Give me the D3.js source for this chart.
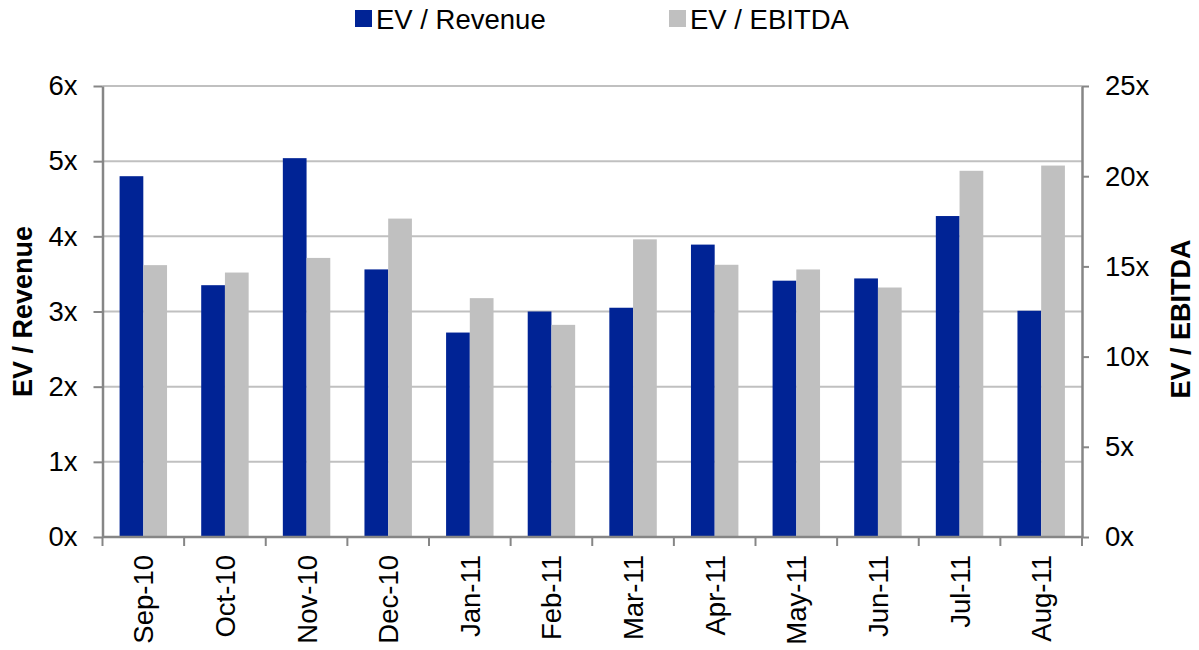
<!DOCTYPE html>
<html lang="en">
<head>
  <meta charset="UTF-8">
  <script src="https://cdn.jsdelivr.net/npm/d3@7"></script>
  <title>EV multiples</title>
  <style>
    body { margin: 0; background: #fff; }
    svg text { font-family: "Liberation Sans", Arial, sans-serif; fill: #000; }
  </style>
</head>
<body>
  <svg width="1199" height="650" id="chart"></svg>
  <script>
  // data
  const months = ["Sep-10","Oct-10","Nov-10","Dec-10","Jan-11","Feb-11","Mar-11","Apr-11","May-11","Jun-11","Jul-11","Aug-11"];
  const evRevenue = [4.80, 3.35, 5.04, 3.56, 2.72, 3.00, 3.05, 3.89, 3.41, 3.44, 4.27, 3.01];
  const evEbitda = [15.07, 14.66, 15.47, 17.65, 13.24, 11.76, 16.50, 15.09, 14.83, 13.83, 20.30, 20.59];
  const leftTicks = [0, 1, 2, 3, 4, 5, 6];
  const rightTicks = [0, 5, 10, 15, 20, 25];
  const seriesNames = ["EV / Revenue", "EV / EBITDA"];
  const colors = ["#002395", "#c0c0c0"];

  let svg = d3.select("#chart");
  const plotLeft = 102.5, plotRight = 1082, plotTop = 86, plotBottom = 537;
  const axisColor = "#868686", gridColor = "#c0c0c0";
  const fontSize = "27.5px";

  /* SCALES */
  let scaleX = d3.scaleBand().domain(months).range([plotLeft, plotRight]).padding(0);
  let scaleS = d3.scaleBand().domain(seriesNames).range([0, scaleX.bandwidth()])
    .paddingInner(0).paddingOuter(0.72);
  let scaleYL = d3.scaleLinear().domain([0, 6]).range([plotBottom, plotTop]);
  let scaleYR = d3.scaleLinear().domain([0, 25]).range([plotBottom, plotTop]);

  /* GRID */
  svg.append("g").selectAll("line")
    .data(leftTicks.filter(d => d > 0))
    .enter().append("line")
    .attr("x1", plotLeft).attr("x2", plotRight)
    .attr("y1", d => scaleYL(d)).attr("y2", d => scaleYL(d))
    .attr("stroke", gridColor).attr("stroke-width", 2);

  /* BARS */
  let rows = months.map((m, i) => ({ month: m, values: [evRevenue[i], evEbitda[i]] }));
  let groups = svg.append("g").selectAll("g")
    .data(rows).enter().append("g")
    .attr("transform", d => "translate(" + scaleX(d.month) + ",0)");

  groups.selectAll("rect")
    .data(d => d.values.map((v, j) => ({ name: seriesNames[j], value: v, j: j })))
    .enter().append("rect")
    .attr("x", d => scaleS(d.name))
    .attr("width", scaleS.bandwidth())
    .attr("y", d => d.j === 0 ? scaleYL(d.value) : scaleYR(d.value))
    .attr("height", d => plotBottom - (d.j === 0 ? scaleYL(d.value) : scaleYR(d.value)))
    .attr("fill", d => colors[d.j]);

  /* AXES */
  let axisL = d3.axisLeft(scaleYL).tickValues(leftTicks).tickFormat(d => d + "x")
    .tickSizeInner(9).tickSizeOuter(0).tickPadding(16);
  let gL = svg.append("g").attr("transform", "translate(" + plotLeft + ",0)").call(axisL);

  let axisR = d3.axisRight(scaleYR).tickValues(rightTicks).tickFormat(d => d + "x")
    .tickSizeInner(7).tickSizeOuter(0).tickPadding(16);
  let gR = svg.append("g").attr("transform", "translate(" + plotRight + ",0)").call(axisR);

  [gL, gR].forEach(g => {
    g.select(".domain").attr("stroke", axisColor).attr("stroke-width", 2.5);
    g.selectAll(".tick line").attr("stroke", axisColor).attr("stroke-width", 2);
    g.selectAll(".tick text").style("font-size", fontSize).attr("fill", "#000");
  });

  // category axis: ticks sit between the months
  let gX = svg.append("g");
  gX.append("line")
    .attr("x1", plotLeft).attr("x2", plotRight).attr("y1", plotBottom).attr("y2", plotBottom)
    .attr("stroke", axisColor).attr("stroke-width", 2.5);
  gX.selectAll(".xtick")
    .data(months.concat(["end"]))
    .enter().append("line")
    .attr("class", "xtick")
    .attr("x1", (d, i) => plotLeft + i * scaleX.step())
    .attr("x2", (d, i) => plotLeft + i * scaleX.step())
    .attr("y1", plotBottom).attr("y2", plotBottom + 9)
    .attr("stroke", axisColor).attr("stroke-width", 2);
  gX.selectAll("text")
    .data(months).enter().append("text")
    .text(d => d)
    .attr("transform", d => "translate(" + (scaleX(d) + scaleX.bandwidth() / 2 + 10) + ",555) rotate(-90)")
    .attr("text-anchor", "end")
    .style("font-size", fontSize);

  /* AXIS TITLES */
  svg.append("text")
    .text("EV / Revenue")
    .attr("transform", "translate(32," + ((plotTop + plotBottom) / 2) + ") rotate(-90)")
    .attr("text-anchor", "middle")
    .style("font-size", "27px").style("font-weight", "bold");

  svg.append("text")
    .text("EV / EBITDA")
    .attr("transform", "translate(1190,319) rotate(-90)")
    .attr("text-anchor", "middle")
    .style("font-size", "27px").style("font-weight", "bold");

  /* LEGEND */
  let legendX = [355, 669];
  let legend = svg.append("g").selectAll("g")
    .data(seriesNames).enter().append("g")
    .attr("transform", (d, i) => "translate(" + legendX[i] + ",0)");
  legend.append("rect")
    .attr("x", 0).attr("y", 10).attr("width", 17).attr("height", 17)
    .attr("fill", (d, i) => colors[i]);
  legend.append("text")
    .text(d => d)
    .attr("x", 21).attr("y", 29)
    .style("font-size", fontSize);
  </script>
</body>
</html>
